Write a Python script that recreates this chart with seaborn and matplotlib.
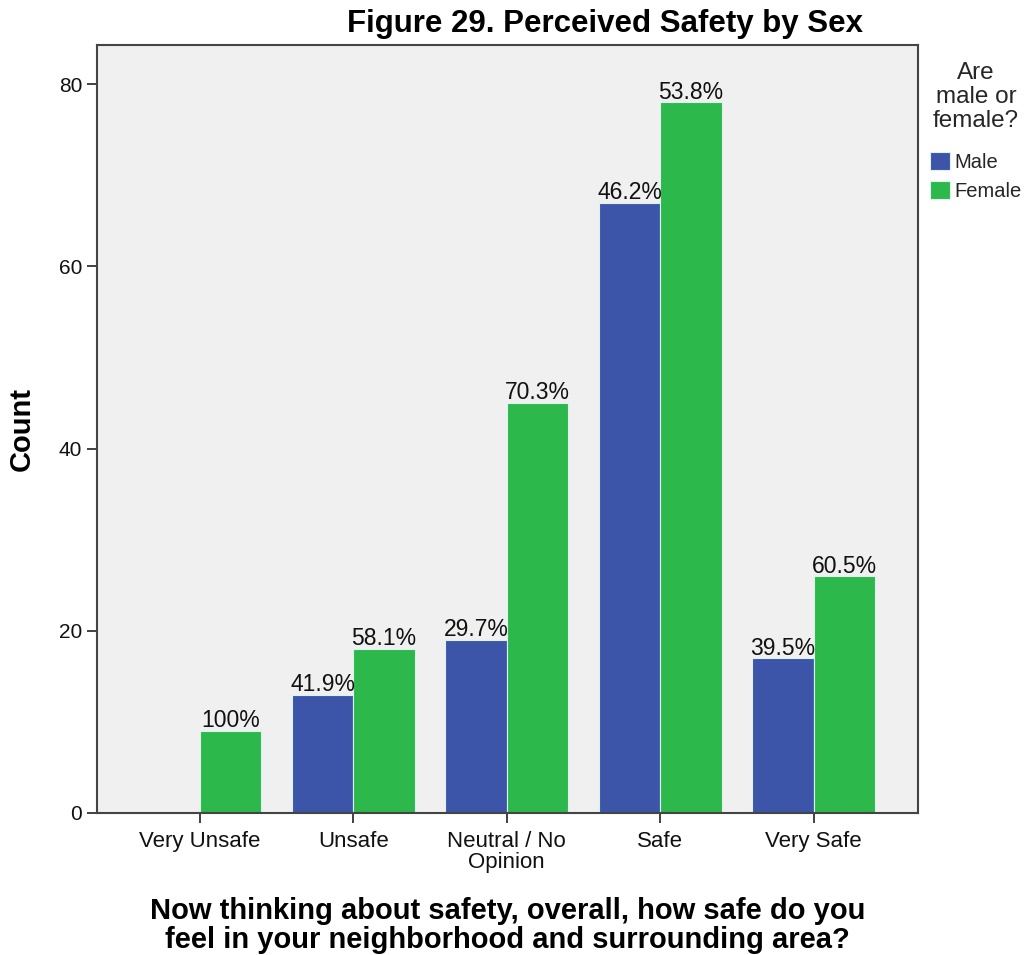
import matplotlib
matplotlib.use("Agg")
import matplotlib.pyplot as plt
import seaborn as sns
import pandas as pd

categories = ["Very Unsafe", "Unsafe", "Neutral / No\nOpinion", "Safe", "Very Safe"]
male_counts = [0, 13, 19, 67, 17]
female_counts = [9, 18, 45, 78, 26]
male_labels = ["", "41.9%", "29.7%", "46.2%", "39.5%"]
female_labels = ["100%", "58.1%", "70.3%", "53.8%", "60.5%"]
sexes = ["Male", "Female"]
colors = ["#3D55A8", "#2DB84B"]

sns.set_theme(style="white")
plt.rcParams["font.family"] = ["Liberation Sans", "DejaVu Sans"]

df = pd.DataFrame({
    "cat": categories * 2,
    "sex": ["Male"] * 5 + ["Female"] * 5,
    "count": male_counts + female_counts,
})

fig = plt.figure(figsize=(10.26, 9.55), dpi=100)
ax = fig.add_axes([0.0945, 0.1487, 0.8002, 0.8042])
ax.set_facecolor("#F0F0F0")

sns.barplot(data=df, x="cat", y="count", hue="sex", hue_order=sexes,
            palette=colors, saturation=1, width=0.8, ax=ax, edgecolor="#DDF3F0",
            linewidth=0.8, errorbar=None, legend=True)

for container, labels in zip(ax.containers, [male_labels, female_labels]):
    ax.bar_label(container, labels=labels, padding=-1, fontsize=16.5, color="#111111")

ax.set_xlim(-0.67, 4.68)
ax.set_ylim(0, 84.3)
ax.set_yticks([0, 20, 40, 60, 80])
ax.tick_params(axis="both", which="major", colors="#333333",
               length=7, width=1.3, direction="out", left=True, bottom=True)
ax.tick_params(axis="x", labelsize=16, pad=6)
ax.tick_params(axis="y", labelsize=15)
for lbl in ax.get_xticklabels() + ax.get_yticklabels():
    lbl.set_color("#111111")
    lbl.set_linespacing(1.0)
for s in ax.spines.values():
    s.set_color("#444444")
    s.set_linewidth(1.5)

ax.set_xlabel("Now thinking about safety, overall, how safe do you\nfeel in your neighborhood and surrounding area?",
              fontsize=21, fontweight="bold", labelpad=17, linespacing=1.05, color="black")
ax.set_ylabel("Count", fontsize=21, fontweight="bold", color="black")
ax.yaxis.set_label_coords(-0.074, 0.5)

fig.text(0.59, 0.975, "Figure 29. Perceived Safety by Sex", ha="center", va="center",
         fontsize=22.5, fontweight="bold", color="black")

leg = ax.legend(title="Are\nmale or\nfemale?", loc="upper left", bbox_to_anchor=(1.005, 0.988),
                frameon=False, fontsize=14.5, title_fontsize=17.5, handlelength=1.0,
                handleheight=1.0, handletextpad=0.2, labelspacing=0.45, borderaxespad=0.0)
leg.get_title().set_multialignment("center")
leg.get_title().set_linespacing(1.12)
leg._legend_box.align = "center"
leg._legend_box.sep = 14

fig.savefig("out.png", dpi=100)
